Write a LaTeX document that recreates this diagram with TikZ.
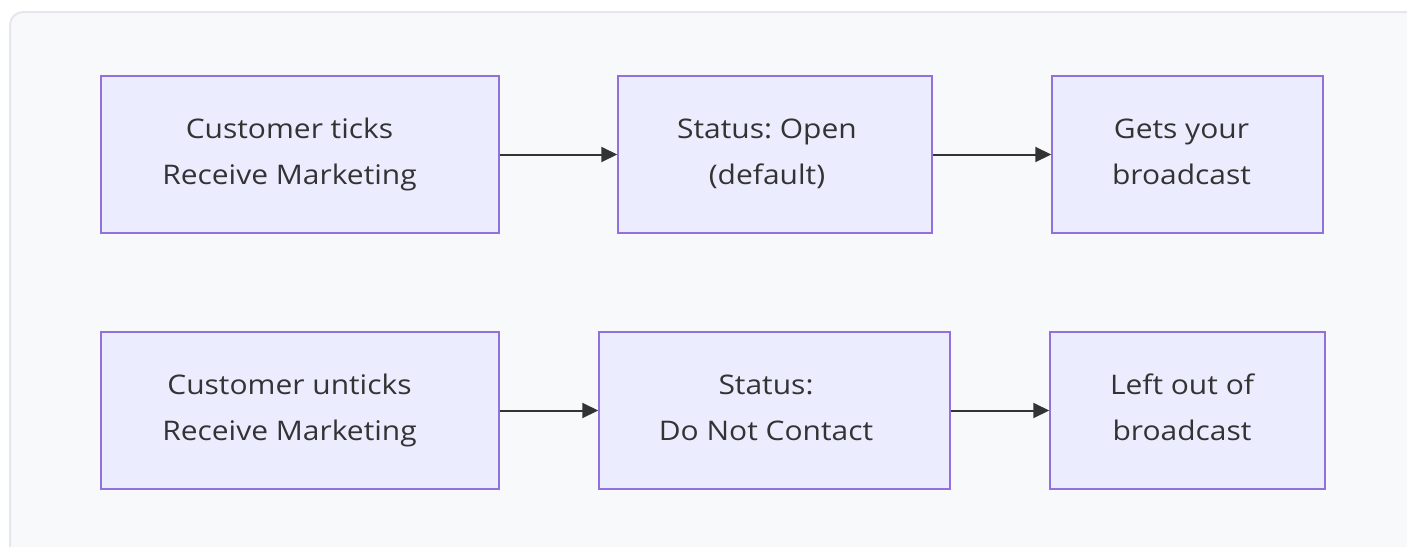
\documentclass[tikz,border=0pt]{standalone}
\usepackage{fontspec}
\setmainfont[FakeStretch=1.11]{Open Sans}
\usetikzlibrary{arrows.meta}
\frenchspacing
\definecolor{panelfill}{HTML}{F8F9FB}
\definecolor{paneledge}{HTML}{E6E7EB}
\definecolor{boxfill}{HTML}{ECECFF}
\definecolor{boxedge}{HTML}{9370DB}
\definecolor{ink}{HTML}{333333}
% two-line label: fixed ascent/descent and a leftward offset of #1
\newcommand\twolines[3]{\rule{0pt}{22pt}#2\hspace*{#1}\\#3\hspace*{#1}\rule[-8pt]{0pt}{8pt}}
\tikzset{
  flowbox/.style={draw=boxedge, fill=boxfill, line width=1.5pt, inner sep=0pt,
    minimum height=157pt, text=ink, align=center, font=\fontsize{27}{46}\selectfont},
  flowarrow/.style={draw=ink, line width=2pt, -{Triangle[length=16pt,width=15pt]}}
}
\begin{document}
\begin{tikzpicture}[x=1pt, y=-1pt]
  \useasboundingbox (0,0) rectangle (1407,546);
  \begin{scope}
    \clip (0,0) rectangle (1407,546);
    \draw[paneledge, fill=panelfill, line width=2pt, rounded corners=13pt] (10,12) rectangle (1430,560);
  \end{scope}
  % upper row: customer opts in
  \node[flowbox, minimum width=398pt] (tick) at (300,154.5) {\twolines{21pt}{Customer ticks}{Receive Marketing}};
  \node[flowbox, minimum width=314pt] (open) at (775,154.5) {\twolines{16pt}{Status: Open}{(default)}};
  \node[flowbox, minimum width=271pt] (gets) at (1187.5,154.5) {\twolines{12pt}{Gets your}{broadcast}};
  % lower row: customer opts out
  \node[flowbox, minimum width=398pt] (untick) at (300,410.5) {\twolines{21pt}{Customer unticks}{Receive Marketing}};
  \node[flowbox, minimum width=351pt] (dnc) at (774.5,410.5) {\twolines{17pt}{Status:}{Do Not Contact}};
  \node[flowbox, minimum width=275pt] (left) at (1187.5,410.5) {\twolines{11pt}{Left out of}{broadcast}};
  \draw[flowarrow] (tick) -- (open);
  \draw[flowarrow] (open) -- (gets);
  \draw[flowarrow] (untick) -- (dnc);
  \draw[flowarrow] (dnc) -- (left);
\end{tikzpicture}
\end{document}
